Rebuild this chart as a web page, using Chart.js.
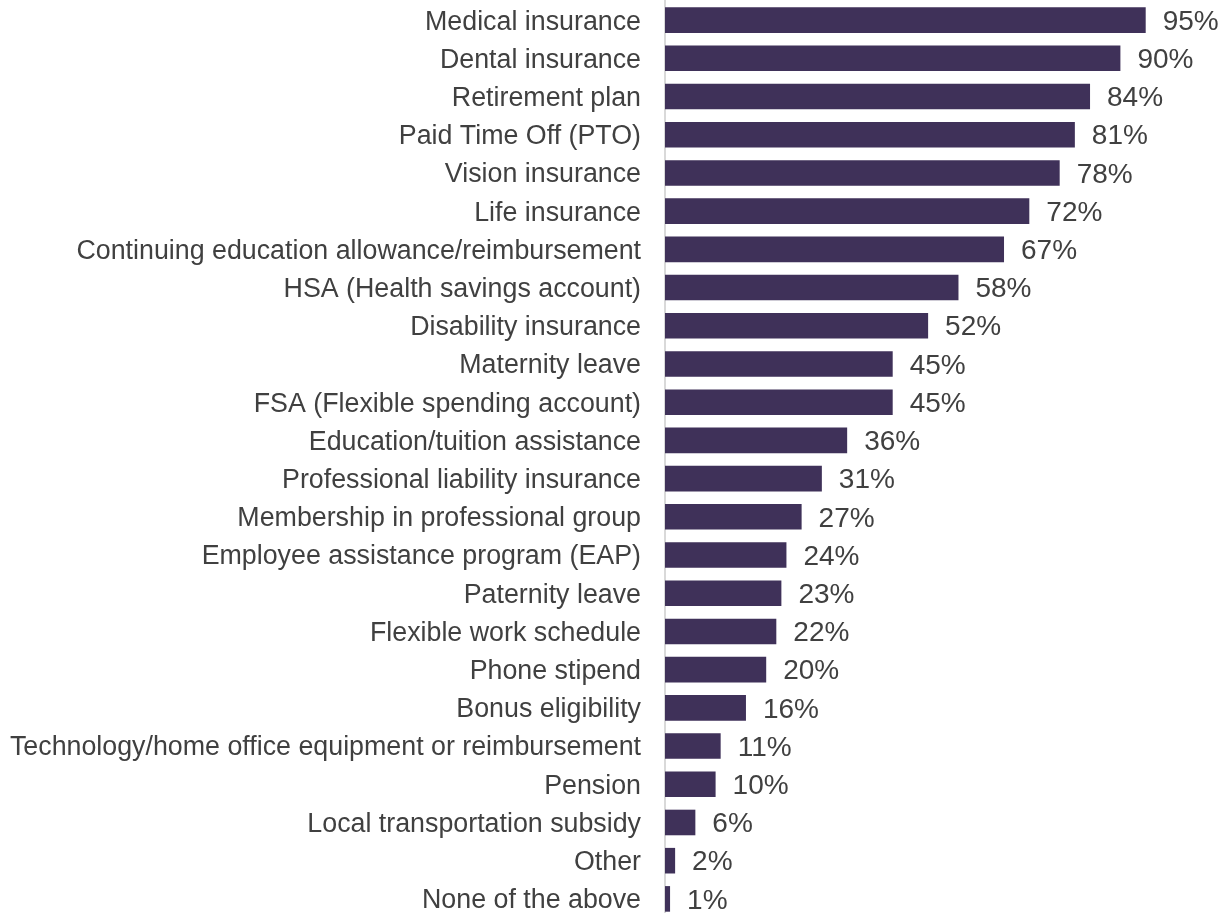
<!DOCTYPE html>
<html>
<head>
<meta charset="utf-8">
<script src="https://cdn.jsdelivr.net/npm/chart.js@4"></script>
<style>
  html, body { margin: 0; padding: 0; background: #ffffff; overflow: hidden; }
  #wrap { position: relative; width: 1226px; height: 918px; }
</style>
</head>
<body>
<div id="wrap"><canvas id="benefitsChart"></canvas></div>
<script>
const categories = [
    'Medical insurance',
    'Dental insurance',
    'Retirement plan',
    'Paid Time Off (PTO)',
    'Vision insurance',
    'Life insurance',
    'Continuing education allowance/reimbursement',
    'HSA (Health savings account)',
    'Disability insurance',
    'Maternity leave',
    'FSA (Flexible spending account)',
    'Education/tuition assistance',
    'Professional liability insurance',
    'Membership in professional group',
    'Employee assistance program (EAP)',
    'Paternity leave',
    'Flexible work schedule',
    'Phone stipend',
    'Bonus eligibility',
    'Technology/home office equipment or reimbursement',
    'Pension',
    'Local transportation subsidy',
    'Other',
    'None of the above'
];
const percentages = [95, 90, 84, 81, 78, 72, 67, 58, 52, 45, 45, 36, 31, 27, 24, 23, 22, 20, 16, 11, 10, 6, 2, 1];

const FONT = '"Liberation Sans", Arial, sans-serif';
const TEXT_COLOR = '#404040';

// Value labels drawn just past the end of each bar
const valueLabels = {
    id: 'valueLabels',
    afterDatasetsDraw(chart) {
        const ctx = chart.ctx;
        const meta = chart.getDatasetMeta(0);
        ctx.save();
        ctx.font = '28px ' + FONT;
        ctx.fillStyle = TEXT_COLOR;
        ctx.textAlign = 'left';
        ctx.textBaseline = 'middle';
        meta.data.forEach((bar, i) => {
            ctx.fillText(percentages[i] + '%', bar.x + 17, bar.y + 2);
        });
        ctx.restore();
    }
};

new Chart(document.getElementById('benefitsChart').getContext('2d'), {
    type: 'bar',
    data: {
        labels: categories,
        datasets: [{
            data: percentages,
            backgroundColor: '#3f3159',
            borderWidth: 0,
            categoryPercentage: 1,
            barPercentage: 0.67
        }]
    },
    options: {
        indexAxis: 'y',
        responsive: true,
        maintainAspectRatio: false,
        animation: false,
        layout: { padding: { top: 1, right: 55, bottom: 0, left: 0 } },
        plugins: {
            legend: { display: false },
            tooltip: { enabled: false }
        },
        scales: {
            x: {
                display: false,
                min: 0,
                max: 100
            },
            y: {
                grid: { display: false, drawTicks: false },
                border: { display: true, color: '#d9d9d9', width: 2 },
                ticks: {
                    color: TEXT_COLOR,
                    font: { family: FONT, size: 26.8 },
                    padding: 24,
                    labelOffset: 2,
                    autoSkip: false
                },
                afterFit: (scale) => {
                    scale.width = 665;
                    scale.paddingTop = 0;
                    scale.paddingBottom = 0;
                }
            }
        }
    },
    plugins: [valueLabels]
});
</script>
</body>
</html>
